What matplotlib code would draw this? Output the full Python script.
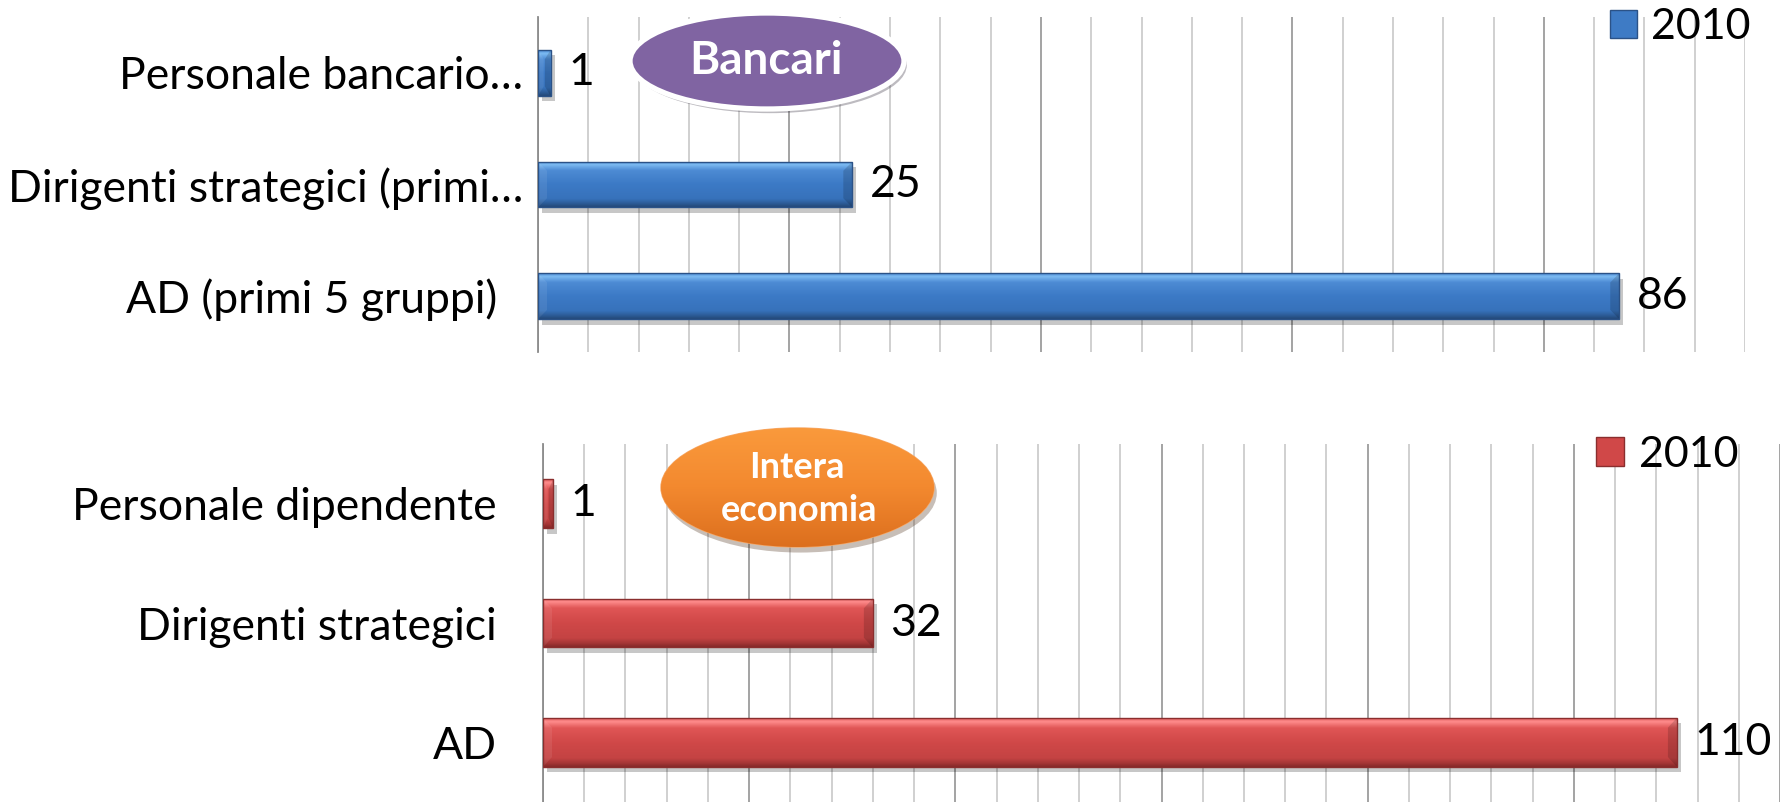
import matplotlib.pyplot as plt
import numpy as np
from matplotlib import patheffects as pe
from matplotlib.colors import LinearSegmentedColormap
from matplotlib.patches import Ellipse, Patch, Polygon
from matplotlib.ticker import MultipleLocator
from matplotlib.transforms import ScaledTranslation

plt.rcParams["font.family"] = ["Lato", "DejaVu Sans"]

# data (top-to-bottom order as in the chart)
bank_labels = ["Personale bancario…", "Dirigenti strategici (primi…", "AD (primi 5 gruppi)"]
bank_values = [1, 25, 86]
econ_labels = ["Personale dipendente", "Dirigenti strategici", "AD"]
econ_values = [1, 32, 110]
series_name = "2010"

W, H = 1789, 802
FS = 32

blue_cmap = LinearSegmentedColormap.from_list(
    "blue_bevel",
    [(0.0, "#4A88D2"), (0.07, "#7DBBF2"), (0.2, "#4D8BD4"), (0.5, "#3C7AC6"),
     (0.82, "#3772BB"), (0.92, "#2D5D99"), (1.0, "#234878")])
red_cmap = LinearSegmentedColormap.from_list(
    "red_bevel",
    [(0.0, "#DE5E5E"), (0.07, "#FF8C8C"), (0.2, "#E05656"), (0.5, "#D04848"),
     (0.82, "#C44343"), (0.92, "#A63636"), (1.0, "#852929")])


def px_box(x0, y0, x1, y1):
    return [x0 / W, 1 - y1 / H, (x1 - x0) / W, (y1 - y0) / H]


def setup_axes(ax, xmax, labels, pad):
    ax.set_xlim(0, xmax)
    ax.set_ylim(len(labels) - 0.5, -0.5)
    ax.xaxis.set_major_locator(MultipleLocator(20))
    ax.xaxis.set_minor_locator(MultipleLocator(4))
    ax.grid(which="minor", axis="x", color="#C8C8C8", linewidth=1.2)
    ax.grid(which="major", axis="x", color="#9C9C9C", linewidth=1.3)
    ax.set_axisbelow(True)
    ax.tick_params(axis="x", which="both", length=0, labelbottom=False)
    ax.tick_params(axis="y", length=0, pad=pad, labelsize=FS)
    ax.set_yticks(np.arange(len(labels)))
    ax.set_yticklabels(labels)
    for side in ["top", "right", "bottom"]:
        ax.spines[side].set_visible(False)
    ax.spines["left"].set_color("#8C8C8C")
    ax.spines["left"].set_linewidth(1.3)


def shaded_barh(ax, values, cmap, edge, px_per_unit):
    y = np.arange(len(values))
    bars = ax.barh(
        y, values, height=0.41, color=cmap(0.5), linewidth=0, zorder=2,
        path_effects=[pe.SimplePatchShadow(offset=(3, -4), shadow_rgbFace="k", alpha=0.22),
                      pe.Normal()])
    grad = np.linspace(0, 1, 128).reshape(-1, 1)
    bev = 9 / px_per_unit
    for b, v in zip(bars, values):
        x0, yb, w, h = b.get_x(), b.get_y(), b.get_width(), b.get_height()
        im = ax.imshow(grad, cmap=cmap, aspect="auto", origin="upper",
                       extent=(x0, x0 + w, yb + h, yb), zorder=2.2,
                       interpolation="bilinear")
        im.set_clip_path(b)
        d = min(bev, w * 0.45)
        dy = h * 0.2
        ax.add_patch(Polygon([(x0 + w - d, yb + dy), (x0 + w, yb), (x0 + w, yb + h),
                              (x0 + w - d, yb + h - dy)], closed=True,
                             facecolor="black", alpha=0.15, linewidth=0, zorder=2.4))
        ax.add_patch(Polygon([(x0, yb), (x0 + d, yb + dy), (x0 + d, yb + h - dy),
                              (x0, yb + h)], closed=True,
                             facecolor="white", alpha=0.08, linewidth=0, zorder=2.4))
    ax.barh(y, values, height=0.41, fill=False, edgecolor=edge, linewidth=1.0, zorder=2.6)
    for yi, v in zip(y, values):
        ax.annotate(f"{v}", (v, yi), xytext=(12.5, 0), textcoords="offset points",
                    ha="left", va="center", fontsize=FS, color="black")


fig = plt.figure(figsize=(W / 100, H / 100), dpi=100)

# top panel: bancari
ax1 = fig.add_axes(px_box(538, 17, 1745, 352))
setup_axes(ax1, 96, bank_labels, 10.8)
shaded_barh(ax1, bank_values, blue_cmap, "#2B5287", (1745 - 538) / 96)
lbl = ax1.get_yticklabels()[2]
lbl.set_transform(lbl.get_transform() + ScaledTranslation(-0.255, 0, fig.dpi_scale_trans))
ax1.set_xlim(0, 96)
ax1.set_ylim(len(bank_labels) - 0.5, -0.5)

# bottom panel: intera economia
ax2 = fig.add_axes(px_box(543, 444, 1780, 802))
setup_axes(ax2, 120, econ_labels, 33.5)
shaded_barh(ax2, econ_values, red_cmap, "#8A2E2E", (1780 - 543) / 120)
ax2.set_xlim(0, 120)
ax2.set_ylim(len(econ_labels) - 0.5, -0.5)

# legends
ax1.legend(handles=[Patch(facecolor="#3E7BC5", edgecolor="#2B5287")], labels=[series_name],
           loc="center left", bbox_to_anchor=(1610 / W, 1 - 27 / H),
           bbox_transform=fig.transFigure, frameon=False, fontsize=FS - 1,
           handlelength=0.62, handleheight=0.62, handletextpad=0.33,
           borderpad=0, borderaxespad=0)
ax2.legend(handles=[Patch(facecolor="#D04848", edgecolor="#8A2E2E")], labels=[series_name],
           loc="center left", bbox_to_anchor=(1596 / W, 1 - 455 / H),
           bbox_transform=fig.transFigure, frameon=False, fontsize=FS - 1,
           handlelength=0.66, handleheight=0.66, handletextpad=0.33,
           borderpad=0, borderaxespad=0)

# "Bancari" bubble
axb = fig.add_axes(px_box(630, 13, 904, 109), zorder=5)
axb.set_axis_off()
axb.add_patch(Ellipse((0.5, 0.5), 1, 1, transform=axb.transAxes, facecolor="#8064A2",
                      edgecolor="white", linewidth=3.8, clip_on=False,
                      path_effects=[pe.SimplePatchShadow(offset=(2, -3), alpha=0.3),
                                    pe.Normal()]))
fig.text(766 / W, 1 - 74 / H, "Bancari", ha="center", va="baseline", fontsize=33,
         fontweight="bold", color="white", zorder=6)

# "Intera economia" bubble
axo = fig.add_axes(px_box(661, 428, 934, 547), zorder=5)
axo.set_axis_off()
axo.set_xlim(0, 1)
axo.set_ylim(0, 1)
shape = Ellipse((0.5, 0.5), 1, 1, transform=axo.transAxes, facecolor="#F0883A",
                edgecolor="#F6A868", linewidth=1.0, clip_on=False,
                path_effects=[pe.SimplePatchShadow(offset=(2, -4), alpha=0.3), pe.Normal()])
axo.add_patch(shape)
orange_cmap = LinearSegmentedColormap.from_list("orange", ["#FA9A3C", "#F3892F", "#DC6F1E"])
img = axo.imshow(np.linspace(0, 1, 128).reshape(-1, 1), cmap=orange_cmap, aspect="auto",
                 extent=(0, 1, 0, 1), origin="upper", zorder=2)
img.set_clip_path(shape)
fig.text(797 / W, 1 - 478 / H, "Intera", ha="center", va="baseline", fontsize=26,
         fontweight="bold", color="white", zorder=6)
fig.text(799 / W, 1 - 521 / H, "economia", ha="center", va="baseline", fontsize=26,
         fontweight="bold", color="white", zorder=6)

fig.savefig("out.png", dpi=100, facecolor="white")
